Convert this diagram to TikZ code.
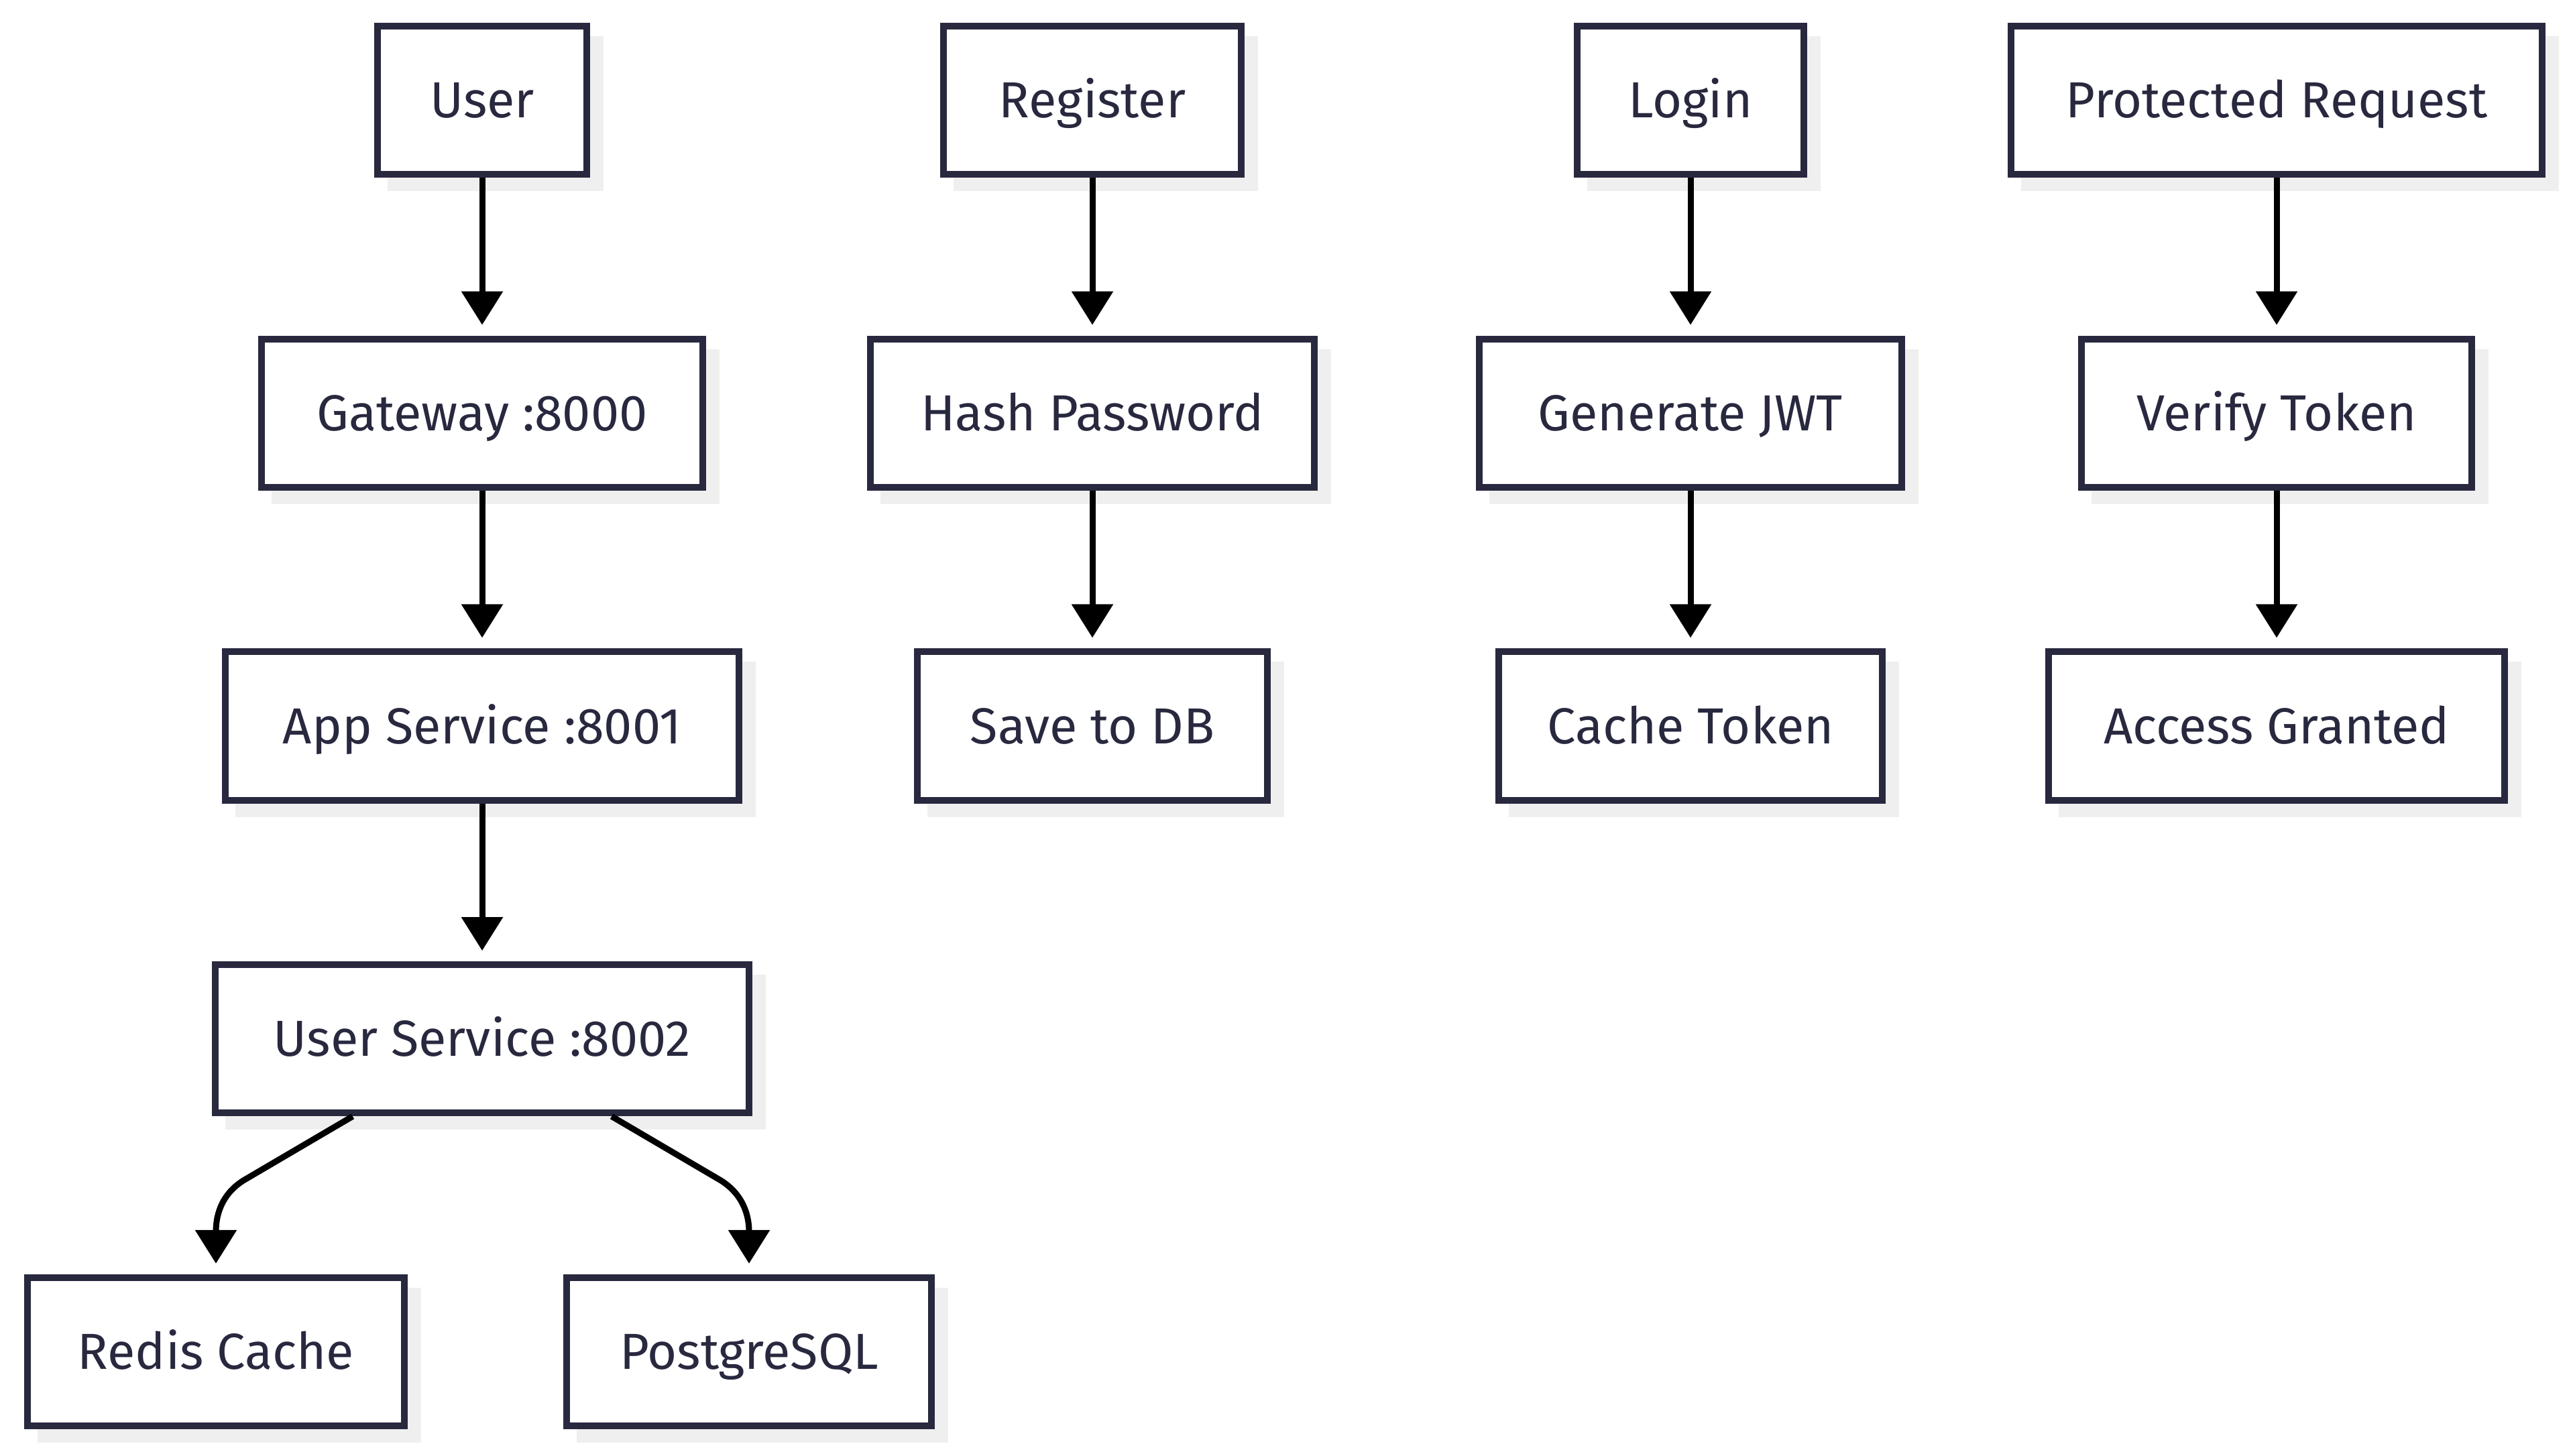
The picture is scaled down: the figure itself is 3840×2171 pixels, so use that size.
\documentclass[tikz,border=0pt]{standalone}
\usepackage{fontspec}
\setmainfont{Fira Sans}
\usetikzlibrary{arrows.meta,shadows}
\definecolor{ink}{HTML}{28283F}
\definecolor{shade}{HTML}{EFEFEF}
\begin{document}
\begin{tikzpicture}[x=0.01cm,y=-0.01cm,
  box/.style={draw=ink, line width=0.1cm, fill=white, text=ink,
    font=\fontsize{21.5}{25}\selectfont, minimum height=2.21cm, inner sep=0pt,
    text height=0.52cm, text depth=0pt,
    drop shadow={shadow xshift=0.2cm, shadow yshift=-0.2cm, fill=shade, draw=shade, opacity=1}},
  arr/.style={draw=black, line width=0.09cm, -{Triangle[length=0.5cm,width=0.6cm]}, shorten >=0.16cm}]
\useasboundingbox (0,0) rectangle (3840,2171);
% column 1
\node[box, minimum width=3.12cm] (user) at (719,149.5) {User};
\node[box, minimum width=6.57cm] (gw) at (719,616.25) {Gateway :8000};
\node[box, minimum width=7.65cm] (app) at (719,1083) {App Service :8001};
\node[box, minimum width=7.96cm] (us) at (719,1549.75) {User Service :8002};
\node[box, minimum width=5.62cm] (redis) at (322,2016.5) {Redis Cache};
\node[box, minimum width=5.44cm] (pg) at (1117,2016.5) {PostgreSQL};
% column 2
\node[box, minimum width=4.44cm] (reg) at (1629,149.5) {Register};
\node[box, minimum width=6.62cm] (hash) at (1629,616.25) {Hash Password};
\node[box, minimum width=5.22cm] (save) at (1629,1083) {Save to DB};
% column 3
\node[box, minimum width=3.38cm] (login) at (2521,149.5) {Login};
\node[box, minimum width=6.30cm] (jwt) at (2521,616.25) {Generate JWT};
\node[box, minimum width=5.71cm] (ct) at (2521,1083) {Cache Token};
% column 4
\node[box, minimum width=7.92cm] (pr) at (3395,149.5) {Protected Request};
\node[box, minimum width=5.81cm] (vt) at (3395,616.25) {Verify Token};
\node[box, minimum width=6.79cm] (ag) at (3395,1083) {Access Granted};
% connectors
\draw[arr] (user) -- (gw);
\draw[arr] (gw) -- (app);
\draw[arr] (app) -- (us);
\draw[arr] ([xshift=-1.93cm]us.south) -- (368,1758) .. controls (332,1778) and (322,1810) .. (redis.north);
\draw[arr] ([xshift=1.93cm]us.south) -- (1070,1758) .. controls (1106,1778) and (1117,1810) .. (pg.north);
\draw[arr] (reg) -- (hash);
\draw[arr] (hash) -- (save);
\draw[arr] (login) -- (jwt);
\draw[arr] (jwt) -- (ct);
\draw[arr] (pr) -- (vt);
\draw[arr] (vt) -- (ag);
\end{tikzpicture}
\end{document}
